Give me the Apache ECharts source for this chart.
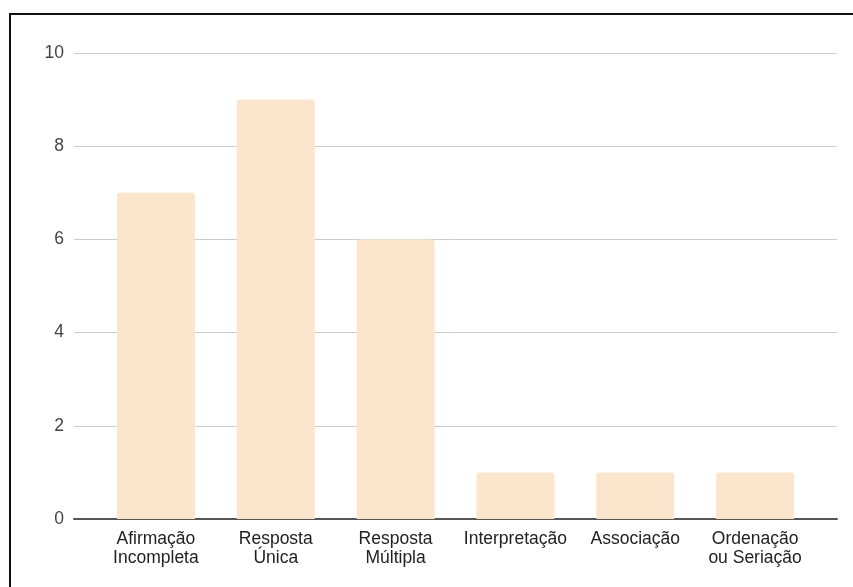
<!DOCTYPE html>
<html>
<head>
<meta charset="utf-8">
<script src="https://cdn.jsdelivr.net/npm/echarts@6/dist/echarts.min.js"></script>
<style>
  html, body { margin: 0; padding: 0; background: #fff; }
  #chart { width: 853px; height: 587px; }
</style>
</head>
<body>
<div id="chart"></div>
<script>
// Question types and how many of each were counted
const categories = [
  'Afirmação\nIncompleta',
  'Resposta\nÚnica',
  'Resposta\nMúltipla',
  'Interpretação',
  'Associação',
  'Ordenação\nou Seriação'
];
const counts = [7, 9, 6, 1, 1, 1];
const yTicks = [0, 2, 4, 6, 8, 10];

const FONT = '"Liberation Sans", Arial, sans-serif';
const chart = echarts.init(document.getElementById('chart'), null, { renderer: 'canvas' });

chart.setOption({
  backgroundColor: '#ffffff',
  animation: false,
  graphic: [{
    type: 'rect',
    shape: { x: 10, y: 14, width: 900, height: 700 },
    style: { fill: 'none', stroke: '#111', lineWidth: 2 },
    silent: true
  }],
  grid: [
    // outer grid: gridlines, y labels and baseline
    { left: 74, right: 16, top: 53, bottom: 68 },
    // inner grid: the bars
    { left: 96, right: 38, top: 53, bottom: 68 }
  ],
  xAxis: [
    {
      gridIndex: 0, type: 'value', min: 0, max: 1,
      axisLine: { show: true, onZero: false, lineStyle: { color: '#555', width: 2 } },
      axisTick: { show: false }, axisLabel: { show: false }, splitLine: { show: false }
    },
    {
      gridIndex: 1, type: 'category', data: categories,
      axisLine: { show: false }, axisTick: { show: false },
      axisLabel: {
        interval: 0, margin: 11, color: '#222',
        fontFamily: FONT, fontSize: 17.5, lineHeight: 18.5, align: 'center'
      }
    }
  ],
  yAxis: [
    {
      gridIndex: 0, type: 'value', min: yTicks[0], max: yTicks[yTicks.length - 1], interval: 2,
      axisLine: { show: false }, axisTick: { show: false },
      axisLabel: { margin: 10, color: '#444', fontFamily: FONT, fontSize: 17.5 },
      splitLine: { lineStyle: { color: '#cccccc', width: 1 } }
    },
    {
      gridIndex: 1, type: 'value', min: yTicks[0], max: yTicks[yTicks.length - 1], interval: 2,
      show: false, splitLine: { show: false }
    }
  ],
  series: [{
    type: 'bar',
    xAxisIndex: 1, yAxisIndex: 1,
    data: counts,
    barWidth: 78,
    itemStyle: { color: '#fce5cd', borderRadius: [3, 3, 0, 0] }
  }]
});
</script>
</body>
</html>
